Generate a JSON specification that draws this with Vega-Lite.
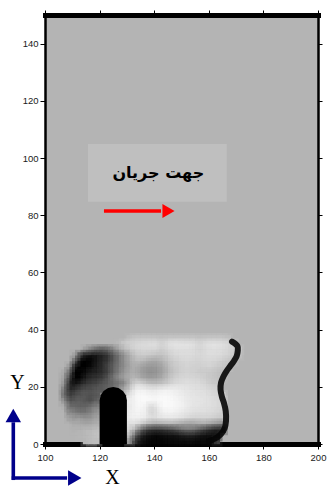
{
  "$schema": "https://vega.github.io/schema/vega-lite/v6.json",
  "width": 273,
  "height": 429,
  "autosize": "none",
  "padding": {"left": 45, "top": 15, "right": 9, "bottom": 45},
  "background": "#ffffff",
  "config": {
    "view": {"fill": "#b4b4b4", "stroke": null},
    "axis": {"grid": false, "labelFont": "Liberation Sans", "labelFontSize": 9.5, "labelColor": "#1a1a1a", "tickColor": "#000000", "domainColor": "#000000", "labelFlush": false}
  },
  "datasets": {
    "bed": [
      {"x":131,"y":37,"v":188},{"x":133,"y":37,"v":195},{"x":135,"y":37,"v":195},{"x":137,"y":37,"v":195},{"x":139,"y":37,"v":195},{"x":141,"y":37,"v":195},{"x":143,"y":37,"v":192},{"x":145,"y":37,"v":195},{"x":147,"y":37,"v":195},{"x":149,"y":37,"v":195},{"x":151,"y":37,"v":195},{"x":153,"y":37,"v":195},{"x":155,"y":37,"v":195},{"x":157,"y":37,"v":192},{"x":159,"y":37,"v":195},{"x":161,"y":37,"v":195},{"x":163,"y":37,"v":195},{"x":165,"y":37,"v":195},{"x":167,"y":37,"v":190},

      {"x":127,"y":35,"v":185},{"x":129,"y":35,"v":200},{"x":131,"y":35,"v":210},{"x":133,"y":35,"v":215},{"x":135,"y":35,"v":220},{"x":137,"y":35,"v":222},{"x":139,"y":35,"v":225},{"x":141,"y":35,"v":225},{"x":143,"y":35,"v":212},{"x":145,"y":35,"v":225},{"x":147,"y":35,"v":230},{"x":149,"y":35,"v":230},{"x":151,"y":35,"v":228},{"x":153,"y":35,"v":228},{"x":155,"y":35,"v":222},{"x":157,"y":35,"v":215},{"x":159,"y":35,"v":225},{"x":161,"y":35,"v":228},{"x":163,"y":35,"v":228},{"x":165,"y":35,"v":225},{"x":167,"y":35,"v":218},{"x":169,"y":35,"v":205},

      {"x":115,"y":33,"v":160},{"x":117,"y":33,"v":135},{"x":119,"y":33,"v":115},{"x":121,"y":33,"v":105},{"x":123,"y":33,"v":115},{"x":125,"y":33,"v":135},{"x":127,"y":33,"v":165},{"x":129,"y":33,"v":188},{"x":131,"y":33,"v":200},{"x":133,"y":33,"v":210},{"x":135,"y":33,"v":215},{"x":137,"y":33,"v":215},{"x":139,"y":33,"v":215},{"x":141,"y":33,"v":215},{"x":143,"y":33,"v":205},{"x":145,"y":33,"v":215},{"x":147,"y":33,"v":220},{"x":149,"y":33,"v":222},{"x":151,"y":33,"v":222},{"x":153,"y":33,"v":222},{"x":155,"y":33,"v":218},{"x":157,"y":33,"v":212},{"x":159,"y":33,"v":220},{"x":161,"y":33,"v":222},{"x":163,"y":33,"v":222},{"x":165,"y":33,"v":220},{"x":167,"y":33,"v":215},{"x":169,"y":33,"v":210},{"x":171,"y":33,"v":200},

      {"x":111,"y":31,"v":165},{"x":113,"y":31,"v":80},{"x":115,"y":31,"v":30},{"x":117,"y":31,"v":20},{"x":119,"y":31,"v":25},{"x":121,"y":31,"v":35},{"x":123,"y":31,"v":50},{"x":125,"y":31,"v":85},{"x":127,"y":31,"v":115},{"x":129,"y":31,"v":145},{"x":131,"y":31,"v":172},{"x":133,"y":31,"v":195},{"x":135,"y":31,"v":205},{"x":137,"y":31,"v":205},{"x":139,"y":31,"v":200},{"x":141,"y":31,"v":195},{"x":143,"y":31,"v":195},{"x":145,"y":31,"v":205},{"x":147,"y":31,"v":215},{"x":149,"y":31,"v":218},{"x":151,"y":31,"v":220},{"x":153,"y":31,"v":220},{"x":155,"y":31,"v":218},{"x":157,"y":31,"v":215},{"x":159,"y":31,"v":220},{"x":161,"y":31,"v":222},{"x":163,"y":31,"v":220},{"x":165,"y":31,"v":218},{"x":167,"y":31,"v":212},{"x":169,"y":31,"v":205},{"x":171,"y":31,"v":190},

      {"x":111,"y":29,"v":115},{"x":113,"y":29,"v":10},{"x":115,"y":29,"v":0},{"x":117,"y":29,"v":5},{"x":119,"y":29,"v":25},{"x":121,"y":29,"v":40},{"x":123,"y":29,"v":55},{"x":125,"y":29,"v":85},{"x":127,"y":29,"v":115},{"x":129,"y":29,"v":145},{"x":131,"y":29,"v":168},{"x":133,"y":29,"v":185},{"x":135,"y":29,"v":190},{"x":137,"y":29,"v":180},{"x":139,"y":29,"v":170},{"x":141,"y":29,"v":170},{"x":143,"y":29,"v":180},{"x":145,"y":29,"v":195},{"x":147,"y":29,"v":205},{"x":149,"y":29,"v":210},{"x":151,"y":29,"v":215},{"x":153,"y":29,"v":215},{"x":155,"y":29,"v":212},{"x":157,"y":29,"v":212},{"x":159,"y":29,"v":215},{"x":161,"y":29,"v":215},{"x":163,"y":29,"v":212},{"x":165,"y":29,"v":208},{"x":167,"y":29,"v":200},{"x":169,"y":29,"v":195},

      {"x":109,"y":27,"v":160},{"x":111,"y":27,"v":35},{"x":113,"y":27,"v":0},{"x":115,"y":27,"v":0},{"x":117,"y":27,"v":10},{"x":119,"y":27,"v":30},{"x":121,"y":27,"v":45},{"x":123,"y":27,"v":70},{"x":125,"y":27,"v":95},{"x":127,"y":27,"v":120},{"x":129,"y":27,"v":140},{"x":131,"y":27,"v":162},{"x":133,"y":27,"v":175},{"x":135,"y":27,"v":165},{"x":137,"y":27,"v":155},{"x":139,"y":27,"v":150},{"x":141,"y":27,"v":155},{"x":143,"y":27,"v":165},{"x":145,"y":27,"v":185},{"x":147,"y":27,"v":200},{"x":149,"y":27,"v":205},{"x":151,"y":27,"v":210},{"x":153,"y":27,"v":210},{"x":155,"y":27,"v":208},{"x":157,"y":27,"v":208},{"x":159,"y":27,"v":210},{"x":161,"y":27,"v":210},{"x":163,"y":27,"v":205},{"x":165,"y":27,"v":200},{"x":167,"y":27,"v":195},

      {"x":107,"y":25,"v":172},{"x":109,"y":25,"v":110},{"x":111,"y":25,"v":0},{"x":113,"y":25,"v":0},{"x":115,"y":25,"v":15},{"x":117,"y":25,"v":30},{"x":119,"y":25,"v":35},{"x":121,"y":25,"v":45},{"x":123,"y":25,"v":65},{"x":125,"y":25,"v":95},{"x":127,"y":25,"v":125},{"x":129,"y":25,"v":150},{"x":131,"y":25,"v":168},{"x":133,"y":25,"v":175},{"x":135,"y":25,"v":160},{"x":137,"y":25,"v":150},{"x":139,"y":25,"v":145},{"x":141,"y":25,"v":150},{"x":143,"y":25,"v":160},{"x":145,"y":25,"v":180},{"x":147,"y":25,"v":195},{"x":149,"y":25,"v":205},{"x":151,"y":25,"v":210},{"x":153,"y":25,"v":210},{"x":155,"y":25,"v":208},{"x":157,"y":25,"v":205},{"x":159,"y":25,"v":205},{"x":161,"y":25,"v":200},{"x":163,"y":25,"v":195},{"x":165,"y":25,"v":190},

      {"x":107,"y":23,"v":165},{"x":109,"y":23,"v":70},{"x":111,"y":23,"v":0},{"x":113,"y":23,"v":5},{"x":115,"y":23,"v":30},{"x":117,"y":23,"v":45},{"x":119,"y":23,"v":50},{"x":121,"y":23,"v":60},{"x":123,"y":23,"v":85},{"x":125,"y":23,"v":115},{"x":127,"y":23,"v":145},{"x":129,"y":23,"v":160},{"x":131,"y":23,"v":175},{"x":133,"y":23,"v":185},{"x":135,"y":23,"v":170},{"x":137,"y":23,"v":160},{"x":139,"y":23,"v":155},{"x":141,"y":23,"v":160},{"x":143,"y":23,"v":170},{"x":145,"y":23,"v":190},{"x":147,"y":23,"v":205},{"x":149,"y":23,"v":212},{"x":151,"y":23,"v":215},{"x":153,"y":23,"v":215},{"x":155,"y":23,"v":212},{"x":157,"y":23,"v":210},{"x":159,"y":23,"v":205},{"x":161,"y":23,"v":200},{"x":163,"y":23,"v":195},{"x":165,"y":23,"v":190},

      {"x":107,"y":21,"v":155},{"x":109,"y":21,"v":40},{"x":111,"y":21,"v":15},{"x":113,"y":21,"v":35},{"x":115,"y":21,"v":55},{"x":117,"y":21,"v":65},{"x":119,"y":21,"v":70},{"x":121,"y":21,"v":85},{"x":123,"y":21,"v":95},{"x":125,"y":21,"v":105},{"x":127,"y":21,"v":115},{"x":129,"y":21,"v":130},{"x":131,"y":21,"v":175},{"x":133,"y":21,"v":210},{"x":135,"y":21,"v":215},{"x":137,"y":21,"v":200},{"x":139,"y":21,"v":190},{"x":141,"y":21,"v":190},{"x":143,"y":21,"v":195},{"x":145,"y":21,"v":205},{"x":147,"y":21,"v":215},{"x":149,"y":21,"v":220},{"x":151,"y":21,"v":222},{"x":153,"y":21,"v":222},{"x":155,"y":21,"v":220},{"x":157,"y":21,"v":218},{"x":159,"y":21,"v":212},{"x":161,"y":21,"v":205},{"x":163,"y":21,"v":200},

      {"x":107,"y":19,"v":130},{"x":109,"y":19,"v":40},{"x":111,"y":19,"v":50},{"x":113,"y":19,"v":70},{"x":115,"y":19,"v":80},{"x":117,"y":19,"v":80},{"x":119,"y":19,"v":90},{"x":121,"y":19,"v":90},{"x":123,"y":19,"v":100},{"x":125,"y":19,"v":110},{"x":127,"y":19,"v":140},{"x":129,"y":19,"v":170},{"x":131,"y":19,"v":200},{"x":133,"y":19,"v":235},{"x":135,"y":19,"v":240},{"x":137,"y":19,"v":235},{"x":139,"y":19,"v":230},{"x":141,"y":19,"v":232},{"x":143,"y":19,"v":238},{"x":145,"y":19,"v":240},{"x":147,"y":19,"v":238},{"x":149,"y":19,"v":235},{"x":151,"y":19,"v":230},{"x":153,"y":19,"v":228},{"x":155,"y":19,"v":225},{"x":157,"y":19,"v":225},{"x":159,"y":19,"v":220},{"x":161,"y":19,"v":215},{"x":163,"y":19,"v":210},

      {"x":107,"y":17,"v":120},{"x":109,"y":17,"v":55},{"x":111,"y":17,"v":75},{"x":113,"y":17,"v":85},{"x":115,"y":17,"v":90},{"x":117,"y":17,"v":80},{"x":119,"y":17,"v":90},{"x":131,"y":17,"v":225},{"x":133,"y":17,"v":245},{"x":135,"y":17,"v":250},{"x":137,"y":17,"v":248},{"x":139,"y":17,"v":245},{"x":141,"y":17,"v":245},{"x":143,"y":17,"v":248},{"x":145,"y":17,"v":248},{"x":147,"y":17,"v":245},{"x":149,"y":17,"v":240},{"x":151,"y":17,"v":235},{"x":153,"y":17,"v":230},{"x":155,"y":17,"v":228},{"x":157,"y":17,"v":226},{"x":159,"y":17,"v":225},{"x":161,"y":17,"v":220},{"x":163,"y":17,"v":215},{"x":165,"y":17,"v":210},

      {"x":107,"y":15,"v":150},{"x":109,"y":15,"v":80},{"x":111,"y":15,"v":90},{"x":113,"y":15,"v":95},{"x":115,"y":15,"v":85},{"x":117,"y":15,"v":75},{"x":119,"y":15,"v":100},{"x":131,"y":15,"v":235},{"x":133,"y":15,"v":245},{"x":135,"y":15,"v":250},{"x":137,"y":15,"v":250},{"x":139,"y":15,"v":248},{"x":141,"y":15,"v":248},{"x":143,"y":15,"v":250},{"x":145,"y":15,"v":250},{"x":147,"y":15,"v":248},{"x":149,"y":15,"v":245},{"x":151,"y":15,"v":238},{"x":153,"y":15,"v":232},{"x":155,"y":15,"v":230},{"x":157,"y":15,"v":228},{"x":159,"y":15,"v":226},{"x":161,"y":15,"v":222},{"x":163,"y":15,"v":218},{"x":165,"y":15,"v":215},

      {"x":107,"y":13,"v":175},{"x":109,"y":13,"v":110},{"x":111,"y":13,"v":105},{"x":113,"y":13,"v":100},{"x":115,"y":13,"v":100},{"x":117,"y":13,"v":115},{"x":119,"y":13,"v":130},{"x":131,"y":13,"v":230},{"x":133,"y":13,"v":245},{"x":135,"y":13,"v":248},{"x":137,"y":13,"v":240},{"x":139,"y":13,"v":215},{"x":141,"y":13,"v":232},{"x":143,"y":13,"v":248},{"x":145,"y":13,"v":250},{"x":147,"y":13,"v":248},{"x":149,"y":13,"v":245},{"x":151,"y":13,"v":240},{"x":153,"y":13,"v":232},{"x":155,"y":13,"v":228},{"x":157,"y":13,"v":226},{"x":159,"y":13,"v":225},{"x":161,"y":13,"v":222},{"x":163,"y":13,"v":218},{"x":165,"y":13,"v":215},

      {"x":109,"y":11,"v":140},{"x":111,"y":11,"v":125},{"x":113,"y":11,"v":115},{"x":115,"y":11,"v":115},{"x":117,"y":11,"v":130},{"x":119,"y":11,"v":150},{"x":131,"y":11,"v":235},{"x":133,"y":11,"v":245},{"x":135,"y":11,"v":245},{"x":137,"y":11,"v":238},{"x":139,"y":11,"v":210},{"x":141,"y":11,"v":225},{"x":143,"y":11,"v":240},{"x":145,"y":11,"v":245},{"x":147,"y":11,"v":242},{"x":149,"y":11,"v":238},{"x":151,"y":11,"v":232},{"x":153,"y":11,"v":228},{"x":155,"y":11,"v":225},{"x":157,"y":11,"v":222},{"x":159,"y":11,"v":222},{"x":161,"y":11,"v":220},{"x":163,"y":11,"v":215},{"x":165,"y":11,"v":210},

      {"x":109,"y":9,"v":165},{"x":111,"y":9,"v":150},{"x":113,"y":9,"v":155},{"x":115,"y":9,"v":145},{"x":117,"y":9,"v":150},{"x":119,"y":9,"v":165},{"x":131,"y":9,"v":235},{"x":133,"y":9,"v":242},{"x":135,"y":9,"v":240},{"x":137,"y":9,"v":235},{"x":139,"y":9,"v":220},{"x":141,"y":9,"v":225},{"x":143,"y":9,"v":230},{"x":145,"y":9,"v":232},{"x":147,"y":9,"v":232},{"x":149,"y":9,"v":228},{"x":151,"y":9,"v":222},{"x":153,"y":9,"v":215},{"x":155,"y":9,"v":212},{"x":157,"y":9,"v":212},{"x":159,"y":9,"v":212},{"x":161,"y":9,"v":210},{"x":163,"y":9,"v":205},{"x":165,"y":9,"v":200},

      {"x":111,"y":7,"v":172},{"x":113,"y":7,"v":170},{"x":115,"y":7,"v":165},{"x":117,"y":7,"v":168},{"x":119,"y":7,"v":175},{"x":131,"y":7,"v":225},{"x":133,"y":7,"v":225},{"x":135,"y":7,"v":210},{"x":137,"y":7,"v":190},{"x":139,"y":7,"v":175},{"x":141,"y":7,"v":170},{"x":143,"y":7,"v":175},{"x":145,"y":7,"v":180},{"x":147,"y":7,"v":178},{"x":149,"y":7,"v":170},{"x":151,"y":7,"v":165},{"x":153,"y":7,"v":160},{"x":155,"y":7,"v":165},{"x":157,"y":7,"v":170},{"x":159,"y":7,"v":170},{"x":161,"y":7,"v":160},{"x":163,"y":7,"v":150},{"x":165,"y":7,"v":140},

      {"x":111,"y":5,"v":178},{"x":113,"y":5,"v":180},{"x":115,"y":5,"v":185},{"x":117,"y":5,"v":185},{"x":119,"y":5,"v":190},{"x":131,"y":5,"v":215},{"x":133,"y":5,"v":180},{"x":135,"y":5,"v":120},{"x":137,"y":5,"v":80},{"x":139,"y":5,"v":60},{"x":141,"y":5,"v":55},{"x":143,"y":5,"v":60},{"x":145,"y":5,"v":70},{"x":147,"y":5,"v":80},{"x":149,"y":5,"v":100},{"x":151,"y":5,"v":120},{"x":153,"y":5,"v":125},{"x":155,"y":5,"v":115},{"x":157,"y":5,"v":90},{"x":159,"y":5,"v":70},{"x":161,"y":5,"v":50},{"x":163,"y":5,"v":35},{"x":165,"y":5,"v":40},

      {"x":113,"y":3,"v":182},{"x":115,"y":3,"v":185},{"x":117,"y":3,"v":190},{"x":119,"y":3,"v":195},{"x":131,"y":3,"v":190},{"x":133,"y":3,"v":110},{"x":135,"y":3,"v":50},{"x":137,"y":3,"v":25},{"x":139,"y":3,"v":15},{"x":141,"y":3,"v":10},{"x":143,"y":3,"v":15},{"x":145,"y":3,"v":20},{"x":147,"y":3,"v":20},{"x":149,"y":3,"v":25},{"x":151,"y":3,"v":35},{"x":153,"y":3,"v":40},{"x":155,"y":3,"v":35},{"x":157,"y":3,"v":25},{"x":159,"y":3,"v":20},{"x":161,"y":3,"v":15},{"x":163,"y":3,"v":20},

      {"x":115,"y":1,"v":182},{"x":117,"y":1,"v":188},{"x":119,"y":1,"v":190},{"x":131,"y":1,"v":150},{"x":133,"y":1,"v":60},{"x":135,"y":1,"v":20},{"x":137,"y":1,"v":10},{"x":139,"y":1,"v":5},{"x":141,"y":1,"v":5},{"x":143,"y":1,"v":5},{"x":145,"y":1,"v":8},{"x":147,"y":1,"v":8},{"x":149,"y":1,"v":10},{"x":151,"y":1,"v":10},{"x":153,"y":1,"v":12},{"x":155,"y":1,"v":10},{"x":157,"y":1,"v":8},{"x":159,"y":1,"v":8},{"x":161,"y":1,"v":10},{"x":163,"y":1,"v":60}
    ],
    "rim": [
      {"i":1,"x":168.5,"y":35.8},{"i":2,"x":170.5,"y":34.2},{"i":3,"x":170.6,"y":32.5},{"i":4,"x":170.2,"y":30.7},{"i":5,"x":169.2,"y":29},{"i":6,"x":167.8,"y":27.2},{"i":7,"x":166.5,"y":25.5},{"i":8,"x":165.4,"y":23.7},{"i":9,"x":164.5,"y":21.5},{"i":10,"x":164.3,"y":19},{"i":11,"x":164.8,"y":16.5},{"i":12,"x":165.5,"y":14.5},{"i":13,"x":166.2,"y":11.5},{"i":14,"x":166.3,"y":8},{"i":15,"x":165.8,"y":5.5},{"i":16,"x":164.5,"y":3.5},{"i":17,"x":162.5,"y":2},{"i":18,"x":160,"y":1}
    ],
    "pier": [
      {"x":120,"y":15.2},{"x":120.38,"y":17.03},{"x":121.46,"y":18.57},{"x":123.09,"y":19.61},{"x":125,"y":19.97},{"x":126.91,"y":19.61},{"x":128.54,"y":18.57},{"x":129.62,"y":17.03},{"x":130,"y":15.2}
    ],
    "box": [{"x":115.75,"x2":166.56,"y":84.7,"y2":104.9,"t":"جهت جریان","tx":141.5,"ty":94.65}],
    "flow": [{"x":121.6,"x2":142.5,"y":81.5,"hx":145.24}],
    "shafts": [
      {"x":88.39,"x2":88.39,"y":-12.6,"y2":7.6},
      {"x":87.8,"x2":108.1,"y":-11.9,"y2":-11.9}
    ],
    "heads": [
      {"x":88.39,"y":9.97,"s":"up"},
      {"x":110.9,"y":-11.9,"s":"right"}
    ],
    "letters": [
      {"x":89.93,"y":18.0,"t":"Y"},
      {"x":124.7,"y":-15.4,"t":"X"}
    ]
  },
  "resolve": {"axis": {"x": "independent", "y": "independent"}},
  "layer": [
    {
      "data": {"name": "bed"},
      "mark": {"type": "square", "size": 38, "filled": true, "opacity": 1, "strokeWidth": 0},
      "encoding": {
        "x": {"field": "x", "type": "quantitative", "scale": {"domain": [100, 200], "nice": false, "zero": false},
              "axis": {"orient": "bottom", "values": [100, 120, 140, 160, 180, 200], "tickSize": 5, "labelPadding": 3, "domainWidth": 5, "domainCap": "square", "title": null}},
        "y": {"field": "y", "type": "quantitative", "scale": {"domain": [0, 150], "nice": false, "zero": false},
              "axis": {"orient": "left", "values": [0, 20, 40, 60, 80, 100, 120, 140], "tickSize": 5, "labelPadding": 2, "domainWidth": 2.5, "domainCap": "square", "title": null}},
        "color": {"field": "v", "type": "quantitative", "scale": {"domain": [0, 255], "range": ["#000000", "#ffffff"], "interpolate": "rgb"}, "legend": null}
      }
    },
    {
      "data": {"name": "bed"},
      "mark": {"type": "square", "size": 121, "filled": true, "opacity": 0.25, "strokeWidth": 0},
      "encoding": {
        "x": {"field": "x", "type": "quantitative", "scale": {"domain": [100, 200], "nice": false, "zero": false}, "axis": null},
        "y": {"field": "y", "type": "quantitative", "scale": {"domain": [0, 150], "nice": false, "zero": false}, "axis": null},
        "color": {"field": "v", "type": "quantitative", "scale": {"domain": [0, 255], "range": ["#000000", "#ffffff"], "interpolate": "rgb"}, "legend": null}
      }
    },
    {
      "data": {"name": "rim"},
      "mark": {"type": "line", "stroke": "#050505", "strokeWidth": 6, "interpolate": "catmull-rom", "strokeCap": "round", "strokeJoin": "round", "opacity": 0.9},
      "encoding": {
        "x": {"field": "x", "type": "quantitative", "scale": {"domain": [100, 200], "nice": false, "zero": false},
              "axis": {"orient": "top", "values": [100, 120, 140, 160, 180, 200], "labels": false, "tickSize": 5, "domainWidth": 5, "domainCap": "square", "title": null}},
        "y": {"field": "y", "type": "quantitative", "scale": {"domain": [0, 150], "nice": false, "zero": false},
              "axis": {"orient": "right", "values": [0, 20, 40, 60, 80, 100, 120, 140], "labels": false, "tickSize": 4, "domainWidth": 2.5, "domainCap": "square", "title": null}},
        "order": {"field": "i", "type": "quantitative"}
      }
    },
    {
      "data": {"name": "pier"},
      "mark": {"type": "area", "color": "#000000", "opacity": 1},
      "encoding": {
        "x": {"field": "x", "type": "quantitative", "scale": {"domain": [100, 200], "nice": false, "zero": false}, "axis": null},
        "y": {"field": "y", "type": "quantitative", "scale": {"domain": [0, 150], "nice": false, "zero": false}, "axis": null},
        "y2": {"datum": 0}
      }
    },
    {
      "data": {"name": "box"},
      "mark": {"type": "rect", "fill": "#bfbfbf"},
      "encoding": {
        "x": {"field": "x", "type": "quantitative", "scale": {"domain": [100, 200], "nice": false, "zero": false}, "axis": null},
        "x2": {"field": "x2"},
        "y": {"field": "y", "type": "quantitative", "scale": {"domain": [0, 150], "nice": false, "zero": false}, "axis": null},
        "y2": {"field": "y2"}
      }
    },
    {
      "data": {"name": "box"},
      "mark": {"type": "text", "font": "DejaVu Sans", "fontWeight": "bold", "fontSize": 16, "color": "#000000", "align": "center", "baseline": "middle"},
      "encoding": {
        "x": {"field": "tx", "type": "quantitative", "scale": {"domain": [100, 200], "nice": false, "zero": false}, "axis": null},
        "y": {"field": "ty", "type": "quantitative", "scale": {"domain": [0, 150], "nice": false, "zero": false}, "axis": null},
        "text": {"field": "t"}
      }
    },
    {
      "data": {"name": "flow"},
      "mark": {"type": "rule", "color": "#ff0000", "strokeWidth": 3.5},
      "encoding": {
        "x": {"field": "x", "type": "quantitative", "scale": {"domain": [100, 200], "nice": false, "zero": false}, "axis": null},
        "x2": {"field": "x2"},
        "y": {"field": "y", "type": "quantitative", "scale": {"domain": [0, 150], "nice": false, "zero": false}, "axis": null}
      }
    },
    {
      "data": {"name": "flow"},
      "mark": {"type": "point", "shape": "triangle-right", "size": 196, "filled": true, "color": "#ff0000", "opacity": 1},
      "encoding": {
        "x": {"field": "hx", "type": "quantitative", "scale": {"domain": [100, 200], "nice": false, "zero": false}, "axis": null},
        "y": {"field": "y", "type": "quantitative", "scale": {"domain": [0, 150], "nice": false, "zero": false}, "axis": null}
      }
    },
    {
      "data": {"name": "shafts"},
      "mark": {"type": "rule", "color": "#00008b", "strokeWidth": 3.6},
      "encoding": {
        "x": {"field": "x", "type": "quantitative", "scale": {"domain": [100, 200], "nice": false, "zero": false}, "axis": null},
        "x2": {"field": "x2"},
        "y": {"field": "y", "type": "quantitative", "scale": {"domain": [0, 150], "nice": false, "zero": false}, "axis": null},
        "y2": {"field": "y2"}
      }
    },
    {
      "data": {"name": "heads"},
      "mark": {"type": "point", "size": 240, "filled": true, "color": "#00008b", "opacity": 1},
      "encoding": {
        "x": {"field": "x", "type": "quantitative", "scale": {"domain": [100, 200], "nice": false, "zero": false}, "axis": null},
        "y": {"field": "y", "type": "quantitative", "scale": {"domain": [0, 150], "nice": false, "zero": false}, "axis": null},
        "shape": {"field": "s", "type": "nominal", "scale": {"domain": ["up", "right"], "range": ["triangle-up", "triangle-right"]}, "legend": null}
      }
    },
    {
      "data": {"name": "letters"},
      "mark": {"type": "text", "font": "Liberation Serif", "fontSize": 20, "color": "#000000", "align": "center", "baseline": "bottom"},
      "encoding": {
        "x": {"field": "x", "type": "quantitative", "scale": {"domain": [100, 200], "nice": false, "zero": false}, "axis": null},
        "y": {"field": "y", "type": "quantitative", "scale": {"domain": [0, 150], "nice": false, "zero": false}, "axis": null},
        "text": {"field": "t"}
      }
    }
  ]
}
